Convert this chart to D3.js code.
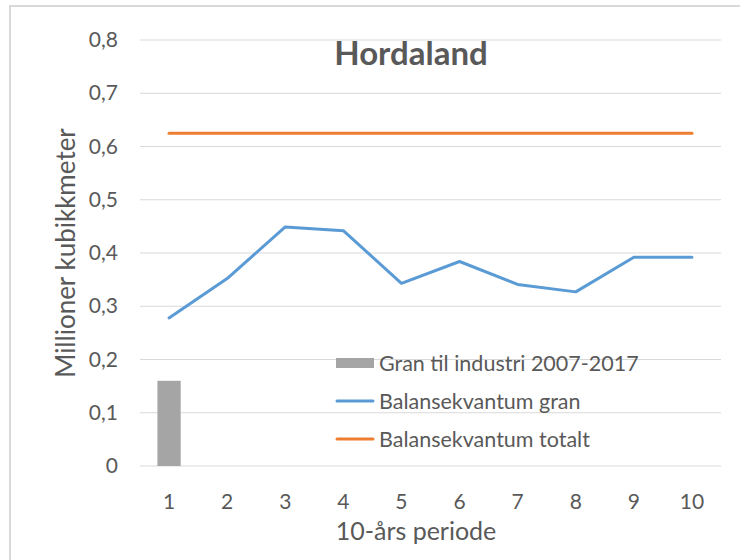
<!DOCTYPE html>
<html>
<head>
<meta charset="utf-8">
<script src="https://cdn.jsdelivr.net/npm/d3@7/dist/d3.min.js"></script>
<style>
  html, body { margin: 0; padding: 0; background: #fff; }
  svg { display: block; }
  text { font-family: Lato, "Open Sans", sans-serif; fill: #595959; }
</style>
</head>
<body>
<svg id="chart" width="740" height="560"></svg>
<script>
const categories = ["1", "2", "3", "4", "5", "6", "7", "8", "9", "10"];
const granIndustri = [0.16, null, null, null, null, null, null, null, null, null];
const balanseGran = [0.278, 0.352, 0.449, 0.442, 0.343, 0.384, 0.341, 0.327, 0.392, 0.392];
const balanseTotalt = [0.625, 0.625, 0.625, 0.625, 0.625, 0.625, 0.625, 0.625, 0.625, 0.625];
const yTicks = [0, 0.1, 0.2, 0.3, 0.4, 0.5, 0.6, 0.7, 0.8];
const seriesNames = ["Gran til industri 2007-2017", "Balansekvantum gran", "Balansekvantum totalt"];
const seriesColors = ["#A5A5A5", "#5B9BD5", "#ED7D31"];
const title = "Hordaland";
const xTitle = "10-års periode";
const yTitle = "Millioner kubikkmeter";

const svg = d3.select("#chart");
const W = 740, H = 560;
const plot = { left: 140, right: 721, top: 40, bottom: 466 };

// outer frame
svg.append("rect")
  .attr("x", 10).attr("y", 6)
  .attr("width", W + 20).attr("height", H + 20)
  .attr("fill", "#fff").attr("stroke", "#D9D9D9").attr("stroke-width", 2);

const x = d3.scaleBand().domain(categories)
  .range([plot.left, plot.right]).paddingInner(0.6).paddingOuter(0.3);
const y = d3.scaleLinear().domain([0, 0.8]).range([plot.bottom, plot.top]);
const fmt = d => d === 0 ? "0" : d.toFixed(1).replace(".", ",");

// gridlines
svg.append("g")
  .selectAll("line").data(yTicks).join("line")
  .attr("x1", plot.left).attr("x2", plot.right)
  .attr("y1", d => y(d)).attr("y2", d => y(d))
  .attr("stroke", "#D9D9D9").attr("stroke-width", 1);

// y axis labels
const yAxis = d3.axisLeft(y).tickValues(yTicks).tickFormat(fmt).tickSize(0).tickPadding(0);
const gy = svg.append("g").attr("transform", `translate(118,0)`).call(yAxis);
gy.select(".domain").remove();
gy.selectAll("text").style("font-size", "21px").style("fill", "#595959")
  .style("font-family", "Lato, sans-serif");

// x axis labels
const xAxis = d3.axisBottom(x).tickSize(0).tickPadding(0);
const gx = svg.append("g").attr("transform", `translate(0,494)`).call(xAxis);
gx.select(".domain").remove();
gx.selectAll("text").style("font-size", "21px").style("fill", "#595959")
  .style("font-family", "Lato, sans-serif");

// bars
svg.append("g").selectAll("rect")
  .data(categories.map((c, i) => ({ c, v: granIndustri[i] })).filter(d => d.v != null))
  .join("rect")
  .attr("x", d => x(d.c)).attr("width", x.bandwidth())
  .attr("y", d => y(d.v)).attr("height", d => y(0) - y(d.v))
  .attr("fill", seriesColors[0]);

const cx = c => x(c) + x.bandwidth() / 2;
const line = d3.line().x(d => cx(d.c)).y(d => y(d.v));

svg.append("path")
  .datum(categories.map((c, i) => ({ c, v: balanseTotalt[i] })))
  .attr("d", line).attr("fill", "none")
  .attr("stroke", seriesColors[2]).attr("stroke-width", 3).attr("stroke-linejoin", "round").attr("stroke-linecap", "round");

svg.append("path")
  .datum(categories.map((c, i) => ({ c, v: balanseGran[i] })))
  .attr("d", line).attr("fill", "none")
  .attr("stroke", seriesColors[1]).attr("stroke-width", 3).attr("stroke-linejoin", "round").attr("stroke-linecap", "round");

// title
svg.append("text").attr("x", 411).attr("y", 65)
  .attr("text-anchor", "middle")
  .style("font-size", "33px").style("font-weight", "bold")
  .text(title);

// axis titles
svg.append("text").attr("x", 416).attr("y", 540)
  .attr("text-anchor", "middle").style("font-size", "25px").text(xTitle);
svg.append("text")
  .attr("transform", "translate(75,253) rotate(-90)")
  .attr("text-anchor", "middle").style("font-size", "26px").text(yTitle);

// legend
const lg = svg.append("g").attr("transform", "translate(336,363)");
const rows = lg.selectAll("g").data(seriesNames).join("g")
  .attr("transform", (d, i) => `translate(0,${i * 38})`);
rows.each(function (d, i) {
  const g = d3.select(this);
  if (i === 0) {
    g.append("rect").attr("x", 0).attr("y", -5).attr("width", 38).attr("height", 10)
      .attr("fill", seriesColors[i]);
  } else {
    g.append("line").attr("x1", 1).attr("x2", 37).attr("y1", 0).attr("y2", 0)
      .attr("stroke", seriesColors[i]).attr("stroke-width", 3).attr("stroke-linecap", "round");
  }
  g.append("text").attr("x", 43).attr("y", 0).attr("dy", "0.35em")
    .style("font-size", "21.5px").text(d);
});
</script>
</body>
</html>
